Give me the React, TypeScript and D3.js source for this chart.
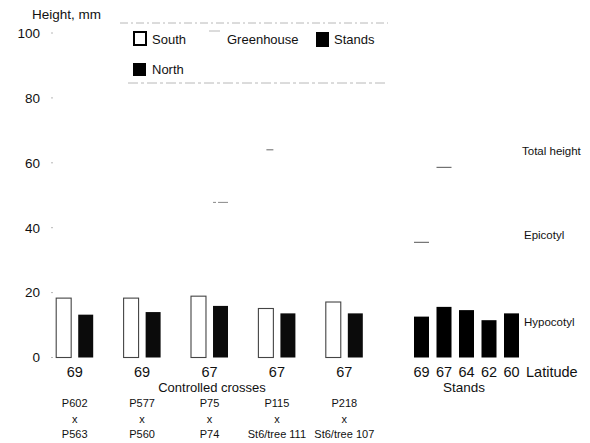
import React from 'react';
import * as d3 from 'd3';

// seedling hypocotyl height (mm)
const crosses = ['P602|P563', 'P577|P560', 'P75|P74', 'P115|St6/tree 111', 'P218|St6/tree 107'];
const crossLatitude = ['69', '69', '67', '67', '67'];
const southHypocotyl = [18.3, 18.3, 18.9, 15.1, 17.1];
const northHypocotyl = [13.2, 14.0, 15.9, 13.6, 13.6];

const standLatitude = ['69', '67', '64', '62', '60'];
const standHypocotyl = [12.6, 15.6, 14.6, 11.5, 13.6];

// faint remains of the total-height bars that survive in the scan
const crossTotalsNorth = [null, null, 47.8, null, null];
const crossTotalsSouth = [null, null, null, 64, null];
const standTotals = [35.5, 58.6, null, null, null];

const yTicks = [0, 20, 40, 60, 80, 100];

const W = 590;
const H = 443;
const font = '"Liberation Sans", Arial, sans-serif';

const App = () => {
  const y = d3.scaleLinear().domain([0, 100]).range([357.5, 33]);

  // controlled crosses: one group per cross, South + North inside
  const x0 = d3.scaleBand().domain(crosses).range([41, 378]);
  const x1 = d3.scaleBand().domain(['South', 'North']).range([0, 37]).paddingInner(0.32);
  const groupLeft = (c: string) => x0(c)! + x0.bandwidth() / 2 - 18.5;

  // stands
  const xs = d3.scaleBand().domain(standLatitude).range([414, 519]).paddingInner(1 / 3);

  const faint = '#b8b8b8';

  return (
    <svg width={W} height={H} style={{ position: 'absolute', left: 0, top: 0, background: '#fff' }}
      fontFamily={font}>
      {/* y axis labels */}
      <text x={32} y={19} fontSize={13.5} fill="#111">Height, mm</text>
      {yTicks.map(t => (
        <g key={t}>
          <text x={40} y={y(t)} dy="0.36em" textAnchor="end" fontSize={13.5} fill="#111">{t}</text>
          <line x1={51} x2={53} y1={y(t)} y2={y(t)} stroke={faint} />
        </g>
      ))}

      {/* legend frame remnants */}
      <line x1={120} x2={388} y1={23} y2={23} stroke={faint} strokeDasharray="8 3 2 3" />
      <line x1={128} x2={388} y1={83} y2={83} stroke={faint} strokeDasharray="10 3 3 3" />

      {/* legend */}
      <rect x={134} y={32} width={12} height={13} fill="#fff" stroke="#000" strokeWidth={2} />
      <text x={152} y={44} fontSize={13} fill="#111">South</text>
      <line x1={209} x2={220} y1={31} y2={31} stroke={faint} />
      <text x={227} y={44} fontSize={13} fill="#111">Greenhouse</text>
      <rect x={316} y={32} width={13} height={15} fill="#000" />
      <text x={334} y={44} fontSize={13} fill="#111">Stands</text>
      <rect x={133} y={63} width={13} height={13} fill="#000" />
      <text x={152} y={74} fontSize={13} fill="#111">North</text>

      {/* controlled crosses */}
      {crosses.map((c, i) => {
        const gx = groupLeft(c);
        const sx = gx + x1('South')!;
        const nx = gx + x1('North')!;
        const bw = x1.bandwidth();
        const [a, b] = c.split('|');
        const cx = gx + 18.5;
        return (
          <g key={c}>
            <rect x={sx} y={y(southHypocotyl[i])} width={bw} height={y(0) - y(southHypocotyl[i])}
              fill="#fff" stroke="#444" strokeWidth={1.1} />
            <rect x={nx} y={y(northHypocotyl[i])} width={bw} height={y(0) - y(northHypocotyl[i])}
              fill="#0b0b0b" />
            {crossTotalsSouth[i] != null && (
              <line x1={sx + 8} x2={sx + bw} y1={y(crossTotalsSouth[i]!)} y2={y(crossTotalsSouth[i]!)}
                stroke="#666" />
            )}
            {crossTotalsNorth[i] != null && (
              <line x1={nx} x2={nx + bw} y1={y(crossTotalsNorth[i]!)} y2={y(crossTotalsNorth[i]!)}
                stroke="#888" strokeDasharray="3 2 8 0" />
            )}
            <text x={cx} y={377} textAnchor="middle" fontSize={14.5} fill="#111">{crossLatitude[i]}</text>
            <text x={cx} y={407} textAnchor="middle" fontSize={11} fill="#111">{a}</text>
            <text x={cx} y={423} textAnchor="middle" fontSize={11} fill="#111">x</text>
            <text x={cx} y={438} textAnchor="middle" fontSize={11} fill="#111">{b}</text>
          </g>
        );
      })}
      <text x={212} y={392} textAnchor="middle" fontSize={13} fill="#111">Controlled crosses</text>

      {/* stands */}
      {standLatitude.map((l, i) => (
        <g key={l}>
          <rect x={xs(l)} y={y(standHypocotyl[i])} width={xs.bandwidth()}
            height={y(0) - y(standHypocotyl[i])} fill="#000" />
          {standTotals[i] != null && (
            <line x1={xs(l)!} x2={xs(l)! + xs.bandwidth()} y1={y(standTotals[i]!)} y2={y(standTotals[i]!)}
              stroke="#555" />
          )}
          <text x={xs(l)! + xs.bandwidth() / 2} y={377} textAnchor="middle" fontSize={14.5} fill="#111">{l}</text>
        </g>
      ))}
      <text x={526} y={377} fontSize={14.5} fill="#111">Latitude</text>
      <text x={464} y={392} textAnchor="middle" fontSize={13.5} fill="#111">Stands</text>

      {/* component labels */}
      <text x={522} y={155} fontSize={11.5} fill="#111">Total height</text>
      <text x={524} y={239} fontSize={11.5} fill="#111">Epicotyl</text>
      <text x={524} y={326} fontSize={11.5} fill="#111">Hypocotyl</text>
    </svg>
  );
};

export default App;
